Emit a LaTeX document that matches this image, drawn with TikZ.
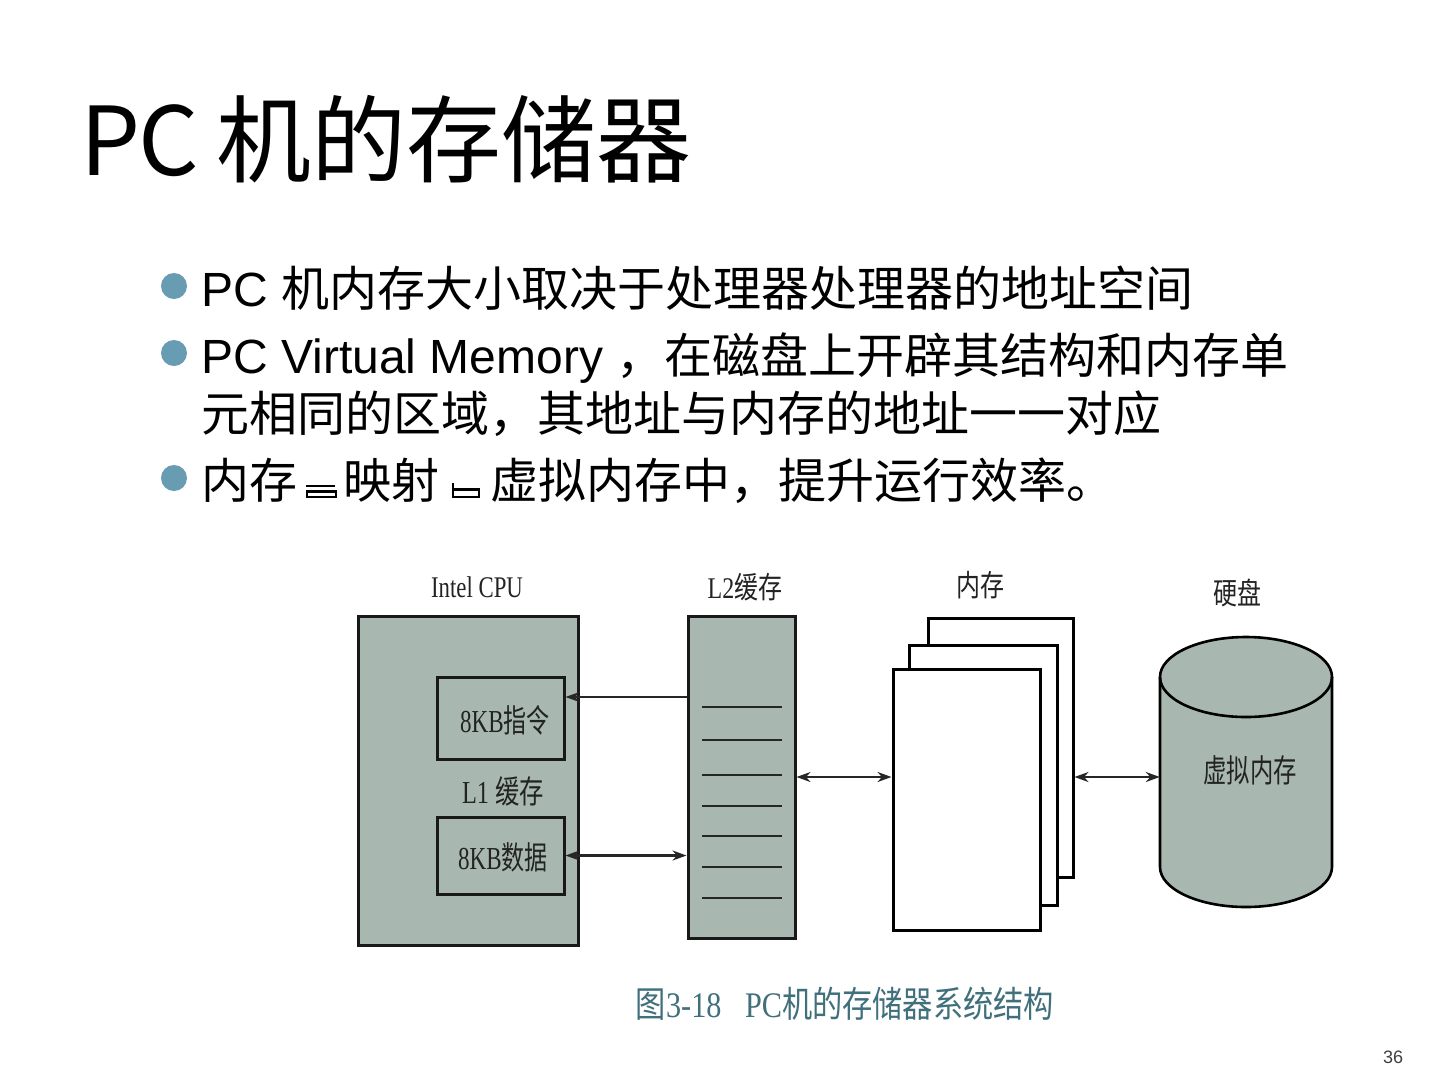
\documentclass[tikz,border=0pt]{standalone}
\usepackage{fontspec}
\setmainfont{Liberation Sans}
\newfontfamily\cjk{Noto Sans CJK SC}
\newfontfamily\rmserif{Liberation Serif}
\usetikzlibrary{arrows.meta}
\definecolor{bulletc}{RGB}{104,156,178}
\definecolor{dfill}{RGB}{168,184,176}
\definecolor{dtext}{RGB}{35,35,35}
\definecolor{capc}{RGB}{64,112,124}
\newcommand\sqz[2][0.78]{\scalebox{#1}[1]{#2}}
\begin{document}
\begin{tikzpicture}[x=1pt,y=-1pt,
  txt/.style={anchor=base west, inner sep=0, font=\fontsize{48}{56}\selectfont},
  bul/.style={circle, fill=bulletc, minimum size=26pt, inner sep=0},
  box/.style={draw=black!90, line width=3pt, fill=dfill, inner sep=0},
  paper/.style={draw=black, line width=3pt, fill=white, inner sep=0},
  lab/.style={inner sep=0, text=dtext, font=\fontsize{30}{30}\selectfont},
  blab/.style={inner sep=0, text=dtext, font=\fontsize{32}{32}\selectfont},
  tip/.tip={Stealth[length=14pt,width=10pt]},
  arr/.style={line width=2.2pt, draw=black!85, -tip},
  darr/.style={line width=2.2pt, draw=black!85, tip-tip},
  glyph/.style={line width=2.6pt, draw=black}
]
\fill[white] (0,0) rectangle (1440,1080);
\useasboundingbox (0,0) rectangle (1440,1080);

% title
\node[anchor=base west, inner sep=0] (title) at (80,175) {\cjk\fontsize{95}{100}\selectfont P\kern-2ptC\kern-4pt{} 机的存储器};

% bullets
\node[bul] (b1) at (174,286) {};
\node[bul] (b2) at (174,353) {};
\node[bul] (b3) at (174,478) {};

\node[txt] (t1) at (201,306) {PC {\cjk 机内存大小取决于处理器处理器的地址空间}};
\node[txt] (t2) at (201,373) {PC Virtual Memory {\cjk ，在磁盘上开辟其结构和内存单}};
\node[txt] (t3) at (201,431) {\cjk 元相同的区域，其地址与内存的地址一一对应};
\node[txt] (t4a) at (201,498) {\cjk 内存};
\node[txt] (t4b) at (343,498) {\cjk 映射};
\node[txt] (t4c) at (490,498) {\cjk 虚拟内存中，提升运行效率。};
% broken glyphs
\draw[glyph] (306,486) -- (335,486);
\draw[glyph] (307,491.5) rectangle (336,497);
\draw[glyph] (453,483) -- (453,497) -- (479,497) -- (479,489.5) -- (453,489.5);

% diagram: CPU
\node[box, minimum width=220pt, minimum height=329pt] (cpu) at (468,780.5) {};
\node[box, minimum width=127pt, minimum height=82pt] (inst) at (500.5,718) {};
\node[box, minimum width=127pt, minimum height=77pt] (data) at (500.5,855.5) {};
\node[blab] at (505,720) {\sqz[0.72]{{\rmserif 8KB}{\cjk 指令}}};
\node[blab] at (503,857) {\sqz[0.72]{{\rmserif 8KB}{\cjk 数据}}};
\node[blab] (l1) at (503,791) {\sqz[0.76]{{\rmserif L1 }{\cjk 缓存}}};
\node[lab] (cpulab) at (477,587) {\sqz[0.76]{\rmserif Intel CPU}};

% L2
\node[box, minimum width=107pt, minimum height=322pt] (L2) at (741.5,777) {};
\foreach \yy in {707,740,775,806,836,867,898}
  \draw[line width=2.2pt, black!85] (702,\yy) -- (782,\yy);
\node[lab] (l2lab) at (745,587) {\sqz[0.8]{{\rmserif L2}{\cjk 缓存}}};

% memory stack
\node[paper, minimum width=145pt, minimum height=259pt] (memb) at (1000.5,747.5) {};
\node[paper, minimum width=148pt, minimum height=260pt] (memm) at (983,775) {};
\node[paper, minimum width=147pt, minimum height=261pt] (memf) at (966.5,799.5) {};
\node[lab] (memlab) at (980,585) {\sqz[0.8]{\cjk 内存}};

% disk
\node[minimum width=172pt, minimum height=270pt, inner sep=0] (disk) at (1246,777) {};
\fill[dfill] (1160,677) -- (1160,867)
  .. controls (1160,889.1) and (1198.5,907) .. (1246,907)
  .. controls (1293.5,907) and (1332,889.1) .. (1332,867)
  -- (1332,677) -- cycle;
\draw[line width=2.6pt, fill=dfill] (1246,677) ellipse [x radius=86, y radius=40];
\draw[line width=2.6pt] (1160,677) -- (1160,867)
  .. controls (1160,889.1) and (1198.5,907) .. (1246,907)
  .. controls (1293.5,907) and (1332,889.1) .. (1332,867)
  -- (1332,677);
\node[lab] (disklab) at (1237,593) {\sqz[0.8]{\cjk 硬盘}};
\node[blab] (vm) at (1250,770) {\sqz[0.73]{\cjk 虚拟内存}};

% connectors
\draw[arr] ([yshift=21pt]inst.east -| L2.west) -- ([yshift=21pt]inst.east);
\draw[darr] (data.east) -- (data.east -| L2.west);
\draw[darr] (L2.east) -- (L2.east -| memf.west);
\draw[darr] (L2.east -| memb.east) -- (L2.east -| disk.west);

% caption
\node[inner sep=0, text=capc, font=\fontsize{36}{36}\selectfont] (cap) at (845,1004)
  {\sqz[0.84]{{\cjk 图}{\rmserif 3-18}\hspace{28pt}{\rmserif PC}{\cjk 机的存储器系统结构}}};

% page number
\node[inner sep=0, text=black!75, font=\fontsize{18}{18}\selectfont] (pg) at (1393,1057) {36};
\end{tikzpicture}
\end{document}
